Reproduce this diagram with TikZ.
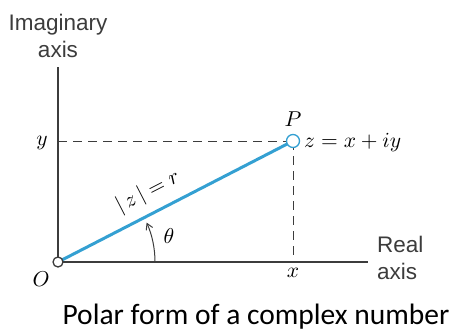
\documentclass[tikz,border=0pt]{standalone}
\usepackage{fontspec}
\setsansfont{Liberation Sans}
\newfontfamily\capfont{Carlito}
\usetikzlibrary{arrows.meta}
\definecolor{zblue}{RGB}{52,160,210}
\definecolor{axgray}{RGB}{60,60,60}
\newcommand{\mylbl}[1]{\scalebox{2.15}{$#1$}}
\tikzset{
  axisline/.style={draw=axgray, line width=1.3pt},
  dashline/.style={draw=axgray, line width=1pt, dash pattern=on 9pt off 6pt},
  vecline/.style={draw=zblue, line width=3pt},
  ptdot/.style={circle, draw, line width=1.3pt, fill=white, minimum size=10pt, inner sep=0pt},
  mathlbl/.style={inner sep=0pt},
  axlbl/.style={inner sep=0pt, align=center, font=\sffamily\fontsize{22.5}{27}\selectfont, text=axgray},
}
\begin{document}
\begin{tikzpicture}[x=1pt,y=-1pt]
\useasboundingbox (0,0) rectangle (454,333);
% axes
\coordinate (ytop) at (58,67);
\coordinate (xend) at (368,262);
\coordinate (yfoot) at (58,141);
\coordinate (xfoot) at (293,262);
\coordinate (oc) at (58,262);
\draw[axisline] (ytop) -- (oc) -- (xend);
% dashed projections
\draw[dashline] (yfoot) -- (293,141);
\draw[dashline] (293,141) -- (xfoot);
% vector
\draw[vecline] (oc) -- (293,141);
% angle arc
\draw[draw=axgray, line width=1pt, -{Straight Barb[length=6pt,width=7pt]}] ([shift={(97,0)}]oc) arc[start angle=0, end angle=-24, radius=97];
% points
\node[ptdot, draw=axgray, minimum size=10pt] (o) at (58,262) {};
\node[ptdot, draw=zblue, minimum size=13pt] (p) at (293,141) {};
% math labels
\node[mathlbl] (lo) at (41,279) {\mylbl{O}};
\node[mathlbl] (lp) at (293,119) {\mylbl{P}};
\node[mathlbl, anchor=west] (lz) at (304,142) {\mylbl{z = x + iy}};
\node[mathlbl] (ly) at (42,143) {\mylbl{y}};
\node[mathlbl] (lx) at (293,273) {\mylbl{x}};
\node[mathlbl] (lt) at (169,236) {\mylbl{\theta}};
\node[mathlbl, rotate=27.2] (lr) at (148,192) {\mylbl{|\,z\,| = r}};
% axis labels
\node[axlbl] (lim) at (58,36) {Imaginary\\axis};
\node[axlbl, align=left, anchor=west] (lre) at (377,258) {Real\\axis};
% caption
\node[inner sep=0pt, font=\capfont\fontsize{29.5}{34}\selectfont] (cap) at (256,317) {Polar form of a complex number};
\end{tikzpicture}
\end{document}
